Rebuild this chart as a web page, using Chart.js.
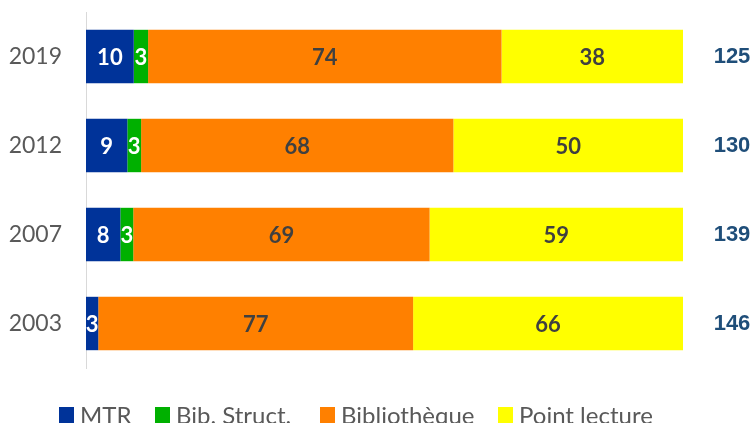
<!DOCTYPE html>
<html>
<head>
<meta charset="utf-8">
<script src="https://cdn.jsdelivr.net/npm/chart.js@4/dist/chart.umd.min.js"></script>
<style>
  html, body { margin: 0; padding: 0; background: #fff; }
  #wrap { width: 753px; height: 423px; position: relative; }
</style>
</head>
<body>
<div id="wrap"><canvas id="chart"></canvas></div>
<script>
// Data (counts per year)
const years = ['2019', '2012', '2007', '2003'];
const seriesNames = ['MTR', 'Bib. Struct.', 'Bibliothèque', 'Point lecture'];
const mtr = [10, 9, 8, 3];
const bibStruct = [3, 3, 3, 0];
const bibliotheque = [74, 68, 69, 77];
const pointLecture = [38, 50, 59, 66];
const totals = [125, 130, 139, 146];

const colors = ['#003399', '#00B000', '#FF8000', '#FFFF00'];
const labelColors = ['#ffffff', '#ffffff', '#404040', '#404040'];
const legendX = [59, 155, 320, 498];

const raw = [mtr, bibStruct, bibliotheque, pointLecture];
// 100% stacked: each bar is shown as share of its year's total
const pct = raw.map(arr => arr.map((v, i) => v / totals[i] * 100));

const segmentLabels = {
    id: 'segmentLabels',
    afterDatasetsDraw(chart) {
        const c = chart.ctx;
        c.save();
        c.textAlign = 'center';
        c.textBaseline = 'middle';
        chart.data.datasets.forEach((ds, di) => {
            const meta = chart.getDatasetMeta(di);
            meta.data.forEach((bar, i) => {
                const v = raw[di][i];
                if (!v) return;
                c.font = 'bold 22px Lato';
                c.fillStyle = labelColors[di];
                c.fillText(String(v), (bar.x + bar.base) / 2, bar.y + 1);
            });
        });
        // totals to the right of the bars
        const meta = chart.getDatasetMeta(0);
        c.font = 'bold 22px "Liberation Sans"';
        c.fillStyle = '#1F4E79';
        meta.data.forEach((bar, i) => {
            c.fillText(String(totals[i]), 732, bar.y);
        });
        c.restore();
    }
};

const bottomLegend = {
    id: 'bottomLegend',
    afterDraw(chart) {
        const c = chart.ctx;
        c.save();
        c.font = '24px Lato';
        c.textBaseline = 'alphabetic';
        c.textAlign = 'left';
        seriesNames.forEach((name, i) => {
            const x = legendX[i];
            c.fillStyle = colors[i];
            c.fillRect(x, 407, 15, 16);
            c.fillStyle = '#595959';
            c.fillText(name, x + 21, 424);
        });
        c.restore();
    }
};

new Chart(document.getElementById('chart'), {
    type: 'bar',
    data: {
        labels: years,
        datasets: seriesNames.map((name, i) => ({
            label: name,
            data: pct[i],
            backgroundColor: colors[i],
            borderWidth: 0,
            categoryPercentage: 1,
            barPercentage: 0.6
        }))
    },
    options: {
        indexAxis: 'y',
        responsive: true,
        maintainAspectRatio: false,
        animation: false,
        layout: { padding: { top: 12, right: 70, bottom: 55, left: 0 } },
        scales: {
            x: { stacked: true, min: 0, max: 100, display: false },
            y: {
                stacked: true,
                grid: { display: false, drawTicks: false },
                border: { display: true, color: '#D9D9D9', width: 1 },
                ticks: { color: '#595959', font: { family: 'Lato', size: 23 }, padding: 24 },
                afterFit(scale) {
                    scale.width = 86;
                    scale.paddingTop = 0;
                    scale.paddingBottom = 0;
                }
            }
        },
        plugins: {
            legend: { display: false },
            tooltip: { enabled: false }
        }
    },
    plugins: [segmentLabels, bottomLegend]
});
</script>
</body>
</html>
